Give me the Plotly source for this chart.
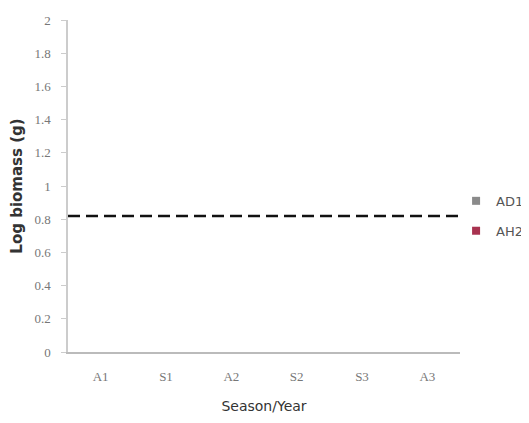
import plotly.graph_objects as go

categories = ["A1", "S1", "A2", "S2", "S3", "A3"]
series_names = ["AD1", "AH2"]
series_colors = ["#8a8a8a", "#a8324f"]
# no data points visible for either series
ad1_values = [None, None, None, None, None, None]
ah2_values = [None, None, None, None, None, None]
threshold = 0.82
y_ticks = [0, 0.2, 0.4, 0.6, 0.8, 1, 1.2, 1.4, 1.6, 1.8, 2]
y_tick_labels = ["0", "0.2", "0.4", "0.6", "0.8", "1", "1.2", "1.4", "1.6", "1.8", "2"]

fig = go.Figure()
for i, (name, vals) in enumerate(zip(series_names, [ad1_values, ah2_values])):
    fig.add_trace(go.Scatter(
        x=categories, y=vals, name=name, mode="markers",
        marker=dict(symbol="square", size=8, color=series_colors[i]),
        legendgroup=name,
    ))

fig.add_shape(type="line", xref="paper", yref="y", x0=0, x1=1.008,
              y0=threshold, y1=threshold,
              line=dict(color="#111111", width=2.5, dash="12px,6px"))

fig.update_layout(
    width=529, height=423,
    margin=dict(l=60, r=77, t=12, b=79, autoexpand=False),
    paper_bgcolor="white", plot_bgcolor="white",
    font=dict(family="DejaVu Sans", color="#555555", size=10),
    showlegend=True,
    legend=dict(x=0.99, y=0.41, xanchor="left", yanchor="middle",
                tracegroupgap=10, itemwidth=30,
                font=dict(family="DejaVu Sans", size=13, color="#555555"),
                bgcolor="rgba(0,0,0,0)"),
)
fig.update_xaxes(
    type="category", categoryorder="array", categoryarray=categories,
    range=[-0.5, 5.5], automargin=False,
    showline=True, linecolor="#bbbbbb", linewidth=1.5,
    showgrid=False, zeroline=False, ticks="", ticklabelstandoff=12,
    tickfont=dict(family="Liberation Serif", size=13, color="#777777"),
    title=dict(text="Season/Year", font=dict(family="DejaVu Sans", size=14, color="#333333"), standoff=18),
)
fig.update_yaxes(
    range=[0, 2], tickvals=y_ticks, ticktext=y_tick_labels, automargin=False,
    showline=True, linecolor="#cccccc", linewidth=1.5,
    showgrid=False, zeroline=False, ticks="outside", ticklen=5, tickcolor="#cccccc",
    ticklabelstandoff=8,
    tickfont=dict(family="Liberation Serif", size=13, color="#777777"),
    title=dict(text="<b>Log biomass (g)</b>", font=dict(family="DejaVu Sans", size=15, color="#333333"), standoff=14),
)

fig.write_html("out.html")
